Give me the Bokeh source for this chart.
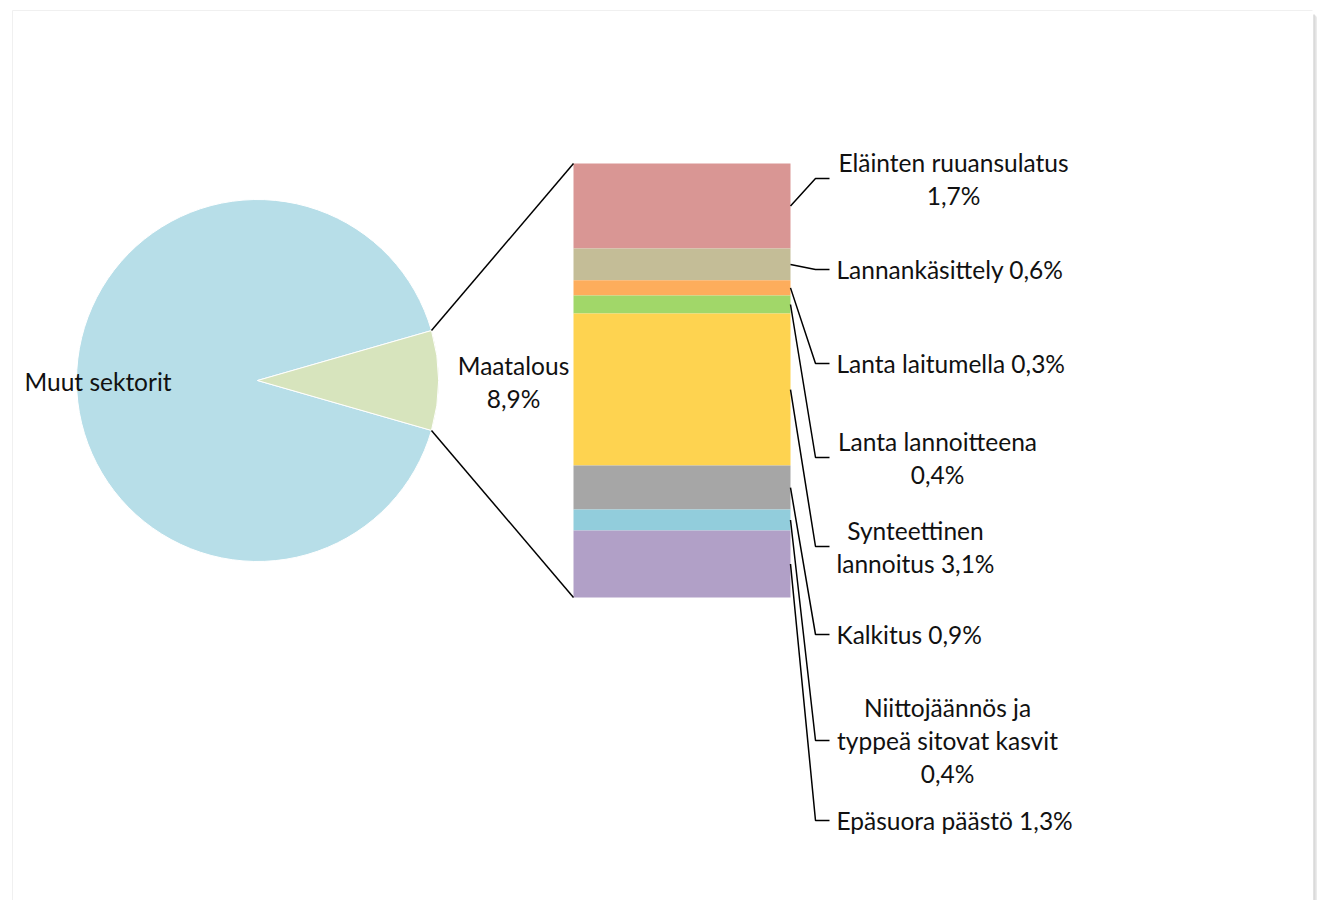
from bokeh.plotting import figure
from bokeh.models import Range1d
from bokeh.core.properties import value
from bokeh.embed import file_html
from bokeh.resources import INLINE
import numpy as np

# ---------------- data ----------------
pie_labels = ["Muut sektorit", "Maatalous"]
pie_values = [91.1, 8.9]
pie_value_labels = ["", "8,9%"]
pie_colors = ["#b7dee8", "#d7e4bd"]

bar_categories = ["Eläinten ruuansulatus", "Lannankäsittely", "Lanta laitumella",
                  "Lanta lannoitteena", "Synteettinen lannoitus", "Kalkitus",
                  "Niittojäännös ja typpeä sitovat kasvit", "Epäsuora päästö"]
bar_values = [1.74, 0.65, 0.31, 0.37, 3.11, 0.90, 0.43, 1.37]
bar_value_labels = ["1,7%", "0,6%", "0,3%", "0,4%", "3,1%", "0,9%", "0,4%", "1,3%"]
bar_colors = ["#d99694", "#c4bd97", "#fdad5c", "#a1d769", "#fed350", "#a6a6a6",
              "#92cddc", "#b1a0c7"]

# label line breaks (text only)
bar_label_lines = [
    ["Eläinten ruuansulatus", "1,7%"],
    ["Lannankäsittely 0,6%"],
    ["Lanta laitumella 0,3%"],
    ["Lanta lannoitteena", "0,4%"],
    ["Synteettinen", "lannoitus 3,1%"],
    ["Kalkitus 0,9%"],
    ["Niittojäännös ja", "typpeä sitovat kasvit", "0,4%"],
    ["Epäsuora päästö 1,3%"],
]

# ---------------- layout (screen pixel coordinates) ----------------
W, H = 1317, 900
def Y(py):
    return H - py

FONT = value("Lato")
FS = "24.5px"
LINE = 33

p = figure(width=W, height=H, output_backend="svg", toolbar_location=None,
           x_range=Range1d(0, W), y_range=Range1d(0, H),
           x_axis_location=None, y_axis_location=None, min_border=0)
p.grid.visible = False
p.outline_line_color = None
p.background_fill_color = "white"
p.border_fill_color = "white"

# card frame
p.line([12, 12], [Y(10), Y(900)], line_color="#f0f0f0", line_width=1)
p.line([12, 1312], [Y(10), Y(10)], line_color="#f0f0f0", line_width=1)
for i, c in enumerate(["#c4c4c4", "#d2d2d2", "#dedede", "#e8e8e8"]):
    p.line([1313.5 + i, 1313.5 + i], [Y(14 + i), Y(900)], line_color=c, line_width=1)

# ---------------- pie ----------------
cx, cy, r = 257, Y(380), 181
total = sum(pie_values)
small_half = np.pi * pie_values[1] / total  # half angle of the Maatalous slice
starts = [small_half, -small_half]
ends = [2 * np.pi - small_half, small_half]
p.wedge(x=[cx, cx], y=[cy, cy], radius=r, start_angle=starts, end_angle=ends,
        fill_color=pie_colors, line_color="white", line_width=1)

# ---------------- bar ----------------
bx0, bx1 = 573, 790
btop, bbot = 163, 597
scale = (bbot - btop) / sum(bar_values)
cum = np.concatenate([[0], np.cumsum(bar_values)])
tops = [Y(btop + scale * cum[i]) for i in range(len(bar_values))]
bots = [Y(btop + scale * cum[i + 1]) for i in range(len(bar_values))]
p.quad(left=bx0, right=bx1, top=tops, bottom=bots, fill_color=bar_colors, line_color=None)

# connector lines pie -> bar
ex = cx + r * np.cos(small_half)
ey_up = cy + r * np.sin(small_half)
ey_dn = cy - r * np.sin(small_half)
p.line([ex, bx0], [ey_up, Y(btop)], line_color="black", line_width=1.5)
p.line([ex, bx0], [ey_dn, Y(bbot)], line_color="black", line_width=1.5)

# ---------------- labels ----------------
p.text(x=[24], y=[Y(381)], text=[pie_labels[0]], text_font=FONT, text_font_size=FS,
       text_align="left", text_baseline="middle", text_color="#111111")
p.text(x=[513, 513], y=[Y(365), Y(398)], text=[pie_labels[1], pie_value_labels[1]],
       text_font=FONT, text_font_size=FS, text_align="center", text_baseline="middle",
       text_color="#111111")

label_cy = [178, 269, 363, 457, 546, 634, 740, 820]
label_cx = [953, None, None, 937, 915, None, 947, None]
for i, lines in enumerate(bar_label_lines):
    mid = (tops[i] + bots[i]) / 2
    ly = Y(label_cy[i])
    p.line([bx1, 815, 829], [mid, ly, ly], line_color="black", line_width=1.5)
    n = len(lines)
    ys = [ly + (n - 1) / 2 * LINE - k * LINE for k in range(n)]
    if label_cx[i] is None:
        p.text(x=[836] * n, y=ys, text=lines, text_font=FONT, text_font_size=FS,
               text_align="left", text_baseline="middle", text_color="#111111")
    else:
        p.text(x=[label_cx[i]] * n, y=ys, text=lines, text_font=FONT, text_font_size=FS,
               text_align="center", text_baseline="middle", text_color="#111111")

open("out.html", "w").write(file_html(p, INLINE))
